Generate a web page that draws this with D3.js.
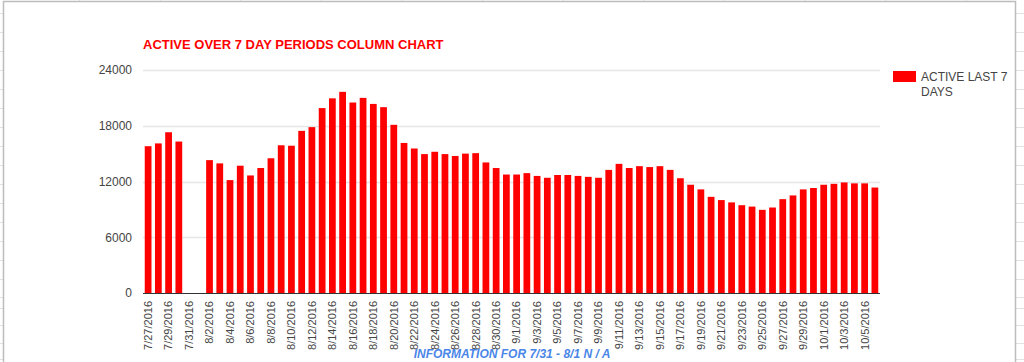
<!DOCTYPE html>
<html>
<head>
<meta charset="utf-8">
<script src="https://cdn.jsdelivr.net/npm/d3@7"></script>
<style>
  html, body { margin: 0; padding: 0; background: #fff; }
  svg { display: block; font-family: Arial, "Liberation Sans", sans-serif; }
</style>
</head>
<body>
<svg id="chart" width="1024" height="362"></svg>
<script>
// ---- Data ----
const dates = [
  "7/27/2016","7/28/2016","7/29/2016","7/30/2016","7/31/2016",
  "8/1/2016","8/2/2016","8/3/2016","8/4/2016","8/5/2016","8/6/2016","8/7/2016","8/8/2016","8/9/2016","8/10/2016",
  "8/11/2016","8/12/2016","8/13/2016","8/14/2016","8/15/2016","8/16/2016","8/17/2016","8/18/2016","8/19/2016","8/20/2016",
  "8/21/2016","8/22/2016","8/23/2016","8/24/2016","8/25/2016","8/26/2016","8/27/2016","8/28/2016","8/29/2016","8/30/2016","8/31/2016",
  "9/1/2016","9/2/2016","9/3/2016","9/4/2016","9/5/2016","9/6/2016","9/7/2016","9/8/2016","9/9/2016","9/10/2016",
  "9/11/2016","9/12/2016","9/13/2016","9/14/2016","9/15/2016","9/16/2016","9/17/2016","9/18/2016","9/19/2016","9/20/2016",
  "9/21/2016","9/22/2016","9/23/2016","9/24/2016","9/25/2016","9/26/2016","9/27/2016","9/28/2016","9/29/2016","9/30/2016",
  "10/1/2016","10/2/2016","10/3/2016","10/4/2016","10/5/2016","10/6/2016"
];
const activeLast7 = [
  15800, 16100, 17300, 16300, null,
  null, 14300, 13950, 12150, 13700, 12650, 13450, 14500, 15900, 15850,
  17450, 17850, 19900, 20950, 21650, 20500, 21000, 20350, 20000, 18100,
  16150, 15550, 14950, 15200, 14950, 14750, 15000, 15050, 14050, 13450, 12750,
  12750, 12900, 12600, 12400, 12700, 12700, 12600, 12500, 12400, 13250,
  13900, 13450, 13650, 13550, 13650, 13250, 12350, 11650, 11150, 10350,
  10000, 9750, 9450, 9300, 8950, 9200, 10100, 10500, 11150, 11300,
  11650, 11750, 11900, 11800, 11800, 11350
];
const yTicks = [0, 6000, 12000, 18000, 24000];
const xTickLabels = dates.filter((d, i) => i % 2 === 0);
const seriesName = ["ACTIVE LAST 7", "DAYS"];
const titleText = "ACTIVE OVER 7 DAY PERIODS COLUMN CHART";
const noteText = "INFORMATION FOR 7/31 - 8/1 N / A";

// ---- Drawing ----
const svg = d3.select("#chart");
const W = 1024, H = 362;

// spreadsheet background lines
const colLines = d3.range(-1, 1024, 80.6);
const rowLines = [13, 32, 51, 70, 89, 108, 127, 146, 165, 184, 203, 222, 241, 260, 279, 297, 308, 325, 343, 359];
svg.append("g").selectAll("line").data(colLines).join("line")
  .attr("x1", d => d).attr("x2", d => d).attr("y1", 0).attr("y2", H)
  .attr("stroke", "#e2e2e2").attr("stroke-width", 1);
svg.append("g").selectAll("line").data(rowLines).join("line")
  .attr("x1", 0).attr("x2", W).attr("y1", d => d + 0.5).attr("y2", d => d + 0.5)
  .attr("stroke", "#e2e2e2").attr("stroke-width", 1);

// chart panel
svg.append("rect").attr("x", 3.5).attr("y", 1.5).attr("width", 1012).attr("height", H + 5)
  .attr("fill", "#fff").attr("stroke", "#bdbdbd").attr("stroke-width", 1.5);

const plot = { left: 143, right: 880, top: 70, bottom: 293 };

const x = d3.scaleBand().domain(dates).range([plot.left, plot.right]).paddingInner(0.34).paddingOuter(0.17);
const y = d3.scaleLinear().domain([0, 24000]).range([plot.bottom, plot.top]);

// gridlines
svg.append("g").selectAll("line").data(yTicks.filter(t => t > 0)).join("line")
  .attr("x1", plot.left).attr("x2", plot.right)
  .attr("y1", d => Math.round(y(d)) + 0.5).attr("y2", d => Math.round(y(d)) + 0.5)
  .attr("stroke", "#e6e6e6").attr("stroke-width", 1.5);

// bars
svg.append("g").selectAll("rect").data(dates.map((d, i) => ({ d, v: activeLast7[i] })).filter(o => o.v != null))
  .join("rect")
  .attr("x", o => x(o.d)).attr("width", x.bandwidth())
  .attr("y", o => y(o.v)).attr("height", o => y(0) - y(o.v))
  .attr("fill", "#ff0000");

// baseline
svg.append("line").attr("x1", plot.left).attr("x2", plot.right)
  .attr("y1", y(0) + 0.5).attr("y2", y(0) + 0.5).attr("stroke", "#333").attr("stroke-width", 1);

// y axis labels
const yAxis = d3.axisLeft(y).tickValues(yTicks).tickSize(0).tickPadding(11).tickFormat(d3.format("d"));
const ya = svg.append("g").attr("transform", `translate(${plot.left},0)`).call(yAxis);
ya.select(".domain").remove();
ya.selectAll("text").attr("font-size", 12).attr("fill", "#444").attr("font-family", "Arial, 'Liberation Sans', sans-serif");

// x axis labels
const xAxis = d3.axisBottom(x).tickValues(xTickLabels).tickSize(0).tickPadding(0);
const xa = svg.append("g").attr("transform", `translate(0,${plot.bottom})`).call(xAxis);
xa.select(".domain").remove();
xa.selectAll("text")
  .attr("font-size", 11).attr("fill", "#444").attr("font-family", "Arial, 'Liberation Sans', sans-serif")
  .attr("transform", "rotate(-90)")
  .attr("text-anchor", "end")
  .attr("x", -8).attr("y", 0).attr("dy", "0.35em");

// title
svg.append("text").attr("x", plot.left).attr("y", 49)
  .attr("font-size", 13).attr("font-weight", "bold").attr("fill", "#ff0000")
  .text(titleText);

// legend
svg.append("rect").attr("x", 893).attr("y", 71).attr("width", 23).attr("height", 11).attr("fill", "#ff0000");
svg.append("g").selectAll("text").data(seriesName).join("text")
  .attr("x", 921).attr("y", (d, i) => 81 + i * 15)
  .attr("font-size", 12).attr("fill", "#444").text(d => d);

// note
svg.append("text").attr("x", 512).attr("y", 358).attr("text-anchor", "middle")
  .attr("font-size", 12).attr("font-weight", "bold").attr("font-style", "italic")
  .attr("fill", "#4a86e8").text(noteText);
</script>
</body>
</html>
